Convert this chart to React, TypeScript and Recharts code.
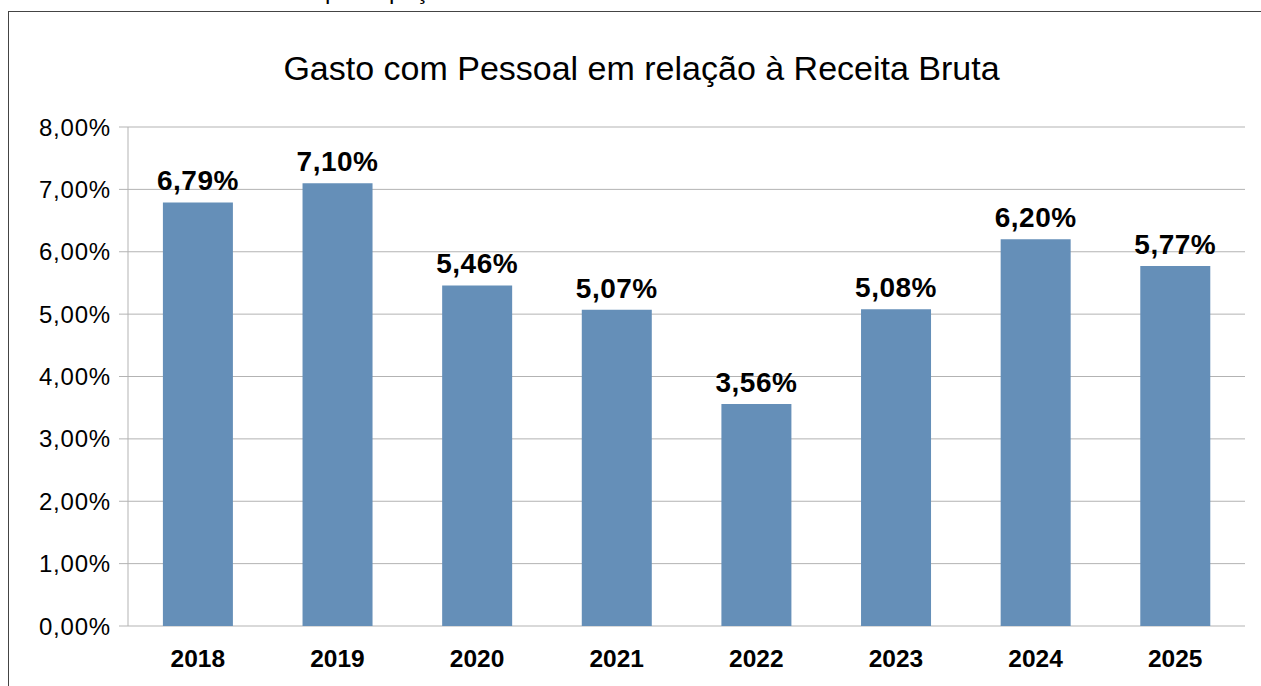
import { BarChart, Bar, XAxis, YAxis, CartesianGrid, LabelList, ReferenceLine } from 'recharts'

const years = ['2018', '2019', '2020', '2021', '2022', '2023', '2024', '2025']
const ratios = [0.0679, 0.071, 0.0546, 0.0507, 0.0356, 0.0508, 0.062, 0.0577]
const yTicks = [0, 0.01, 0.02, 0.03, 0.04, 0.05, 0.06, 0.07, 0.08]
const boundaryTicks = [0, 1, 2, 3, 4, 5, 6, 7, 8]

const data = years.map((year, i) => ({ year, value: ratios[i] }))

const FONT = '"Liberation Sans", Arial, sans-serif'
const GRID = '#b3b3b3'
const BAR = '#658fb8'

const pct = (v: unknown) => (Number(v) * 100).toFixed(2).replace('.', ',') + '%'

export default function App() {
  return (
    <div style={{ position: 'absolute', left: 0, top: 0, width: 1261, height: 686, overflow: 'hidden', background: '#fff', fontFamily: FONT }}>
      <div style={{ position: 'absolute', left: 325, top: -21, fontSize: 24, lineHeight: '24px', whiteSpace: 'nowrap', color: '#000' }}>
        participação
      </div>
      <div style={{ position: 'absolute', left: 8, top: 11, width: 1260, height: 680, borderLeft: '1px solid #444', borderTop: '1px solid #444' }} />
      <div style={{ position: 'absolute', left: 0, top: 48, width: 1283, textAlign: 'center', fontSize: 34, lineHeight: '40px', color: '#000' }}>
        Gasto com Pessoal em relação à Receita Bruta
      </div>
      <div style={{ position: 'absolute', left: 0, top: 0 }}>
        <BarChart width={1261} height={686} data={data} margin={{ top: 127, right: 16, bottom: 0, left: 28 }} barCategoryGap="25%">
          <CartesianGrid vertical={false} stroke={GRID} />
          <XAxis xAxisId="edges" type="number" domain={[0, 8]} ticks={boundaryTicks} tick={false} tickSize={10} height={0} stroke={GRID} allowDataOverflow />
          <XAxis dataKey="year" tickLine={false} axisLine={false} tickSize={0} tickMargin={24} height={60} interval={0}
            tick={{ fill: '#000', fontSize: 24.5, fontWeight: 'bold', fontFamily: FONT }} />
          <YAxis domain={[0, 0.08]} ticks={yTicks} tickFormatter={pct} width={100} tickSize={9} tickMargin={8} stroke={GRID}
            tick={{ fill: '#000', fontSize: 24, fontFamily: FONT, letterSpacing: 0.8 }} interval={0} />
          <ReferenceLine xAxisId="edges" x={8} stroke={GRID} />
          <Bar dataKey="value" fill={BAR} isAnimationActive={false}>
            <LabelList dataKey="value" position="top" offset={12} formatter={pct} fill="#000" fontSize={28} fontWeight="bold" fontFamily={FONT} letterSpacing={0.5} />
          </Bar>
        </BarChart>
      </div>
    </div>
  )
}
